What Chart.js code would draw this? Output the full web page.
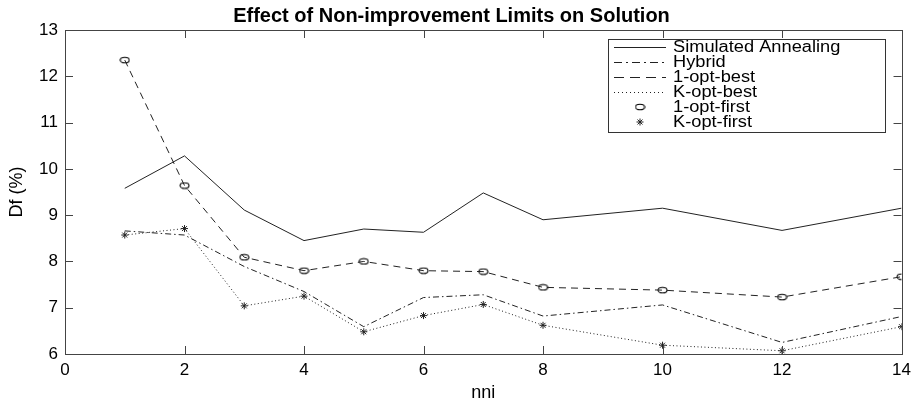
<!DOCTYPE html>
<html>
<head>
<meta charset="utf-8">
<script src="https://cdn.jsdelivr.net/npm/chart.js@4.4.1/dist/chart.umd.min.js"></script>
<style>
  html, body { margin: 0; padding: 0; background: #fff; }
  #wrap { width: 917px; height: 407px; }
</style>
</head>
<body>
<div id="wrap"><canvas id="chart"></canvas></div>
<script>
  // nni values on the x axis
  const nni = [1, 2, 3, 4, 5, 6, 7, 8, 10, 12, 14];

  // Df (%) per method
  const simulatedAnnealing = [9.58, 10.28, 9.11, 8.45, 8.70, 8.63, 9.48, 8.90, 9.15, 8.67, 9.15];
  const hybrid = [8.66, 8.57, 7.89, 7.35, 6.59, 7.22, 7.28, 6.82, 7.06, 6.25, 6.81];
  const oneOptBest = [12.35, 9.64, 8.09, 7.80, 8.00, 7.80, 7.78, 7.44, 7.38, 7.23, 7.67];
  const kOptBest = [8.57, 8.71, 7.04, 7.25, 6.48, 6.83, 7.07, 6.62, 6.19, 6.07, 6.59];
  const oneOptFirst = [12.35, 9.64, 8.09, 7.80, 8.00, 7.80, 7.78, 7.44, 7.38, 7.23, 7.67];
  const kOptFirst = [8.57, 8.71, 7.04, 7.25, 6.48, 6.83, 7.07, 6.62, 6.19, 6.07, 6.59];

  const xTicks = [0, 2, 4, 6, 8, 10, 12, 14];
  const yTicks = [6, 7, 8, 9, 10, 11, 12, 13];

  const ink = "#222";
  const font = "'Liberation Sans', Arial, Helvetica, sans-serif";

  const pts = (ys) => nni.map((x, i) => ({ x: x, y: ys[i] }));

  // flat open ellipse marker, like the matlab 'o' in the picture
  const ellipse = document.createElement("canvas");
  ellipse.width = 11;
  ellipse.height = 8;
  (() => {
    const c = ellipse.getContext("2d");
    c.strokeStyle = "#000";
    c.lineWidth = 1.1;
    c.beginPath();
    c.ellipse(5.5, 4, 4.5, 2.8, 0, 0, Math.PI * 2);
    c.stroke();
  })();

  // legend box with line samples and markers
  const legendBox = {
    id: "legendBox",
    afterDraw(chart) {
      const ctx = chart.ctx;
      const left = 608, top = 39, w = 277, h = 93;
      ctx.save();
      ctx.fillStyle = "#fff";
      ctx.fillRect(left, top, w, h);
      ctx.strokeStyle = "#333";
      ctx.lineWidth = 1;
      ctx.strokeRect(left + 0.5, top + 0.5, w, h);
      ctx.textBaseline = "middle";
      chart.data.datasets.forEach((ds, i) => {
        const y = top + 8 + i * 15;
        ctx.strokeStyle = ink;
        if (ds.showLine !== false) {
          ctx.setLineDash(ds.legendDash || ds.borderDash || []);
          ctx.beginPath();
          ctx.moveTo(614, y + 0.5);
          ctx.lineTo(666, y + 0.5);
          ctx.stroke();
          ctx.setLineDash([]);
        } else {
          ctx.fillStyle = "rgba(0,0,0,0)";
          Chart.helpers.drawPoint(ctx, {
            pointStyle: ds.pointStyle,
            radius: ds.pointRadius,
            borderWidth: 1,
          }, 640, y);
        }
        ctx.save();
        ctx.translate(673, y + 1);
        ctx.scale(1.14, 1);
        ctx.fillStyle = "#000";
        ctx.font = "16px " + font;
        ctx.fillText(ds.label, 0, 0);
        ctx.restore();
      });
      ctx.restore();
    },
  };

  // box around the plot with inward ticks on all sides
  const frameTicks = {
    id: "frameTicks",
    afterDatasetsDraw(chart) {
      const ctx = chart.ctx;
      const a = chart.chartArea;
      const xs = chart.scales.x, ys = chart.scales.y;
      const len = 8;
      ctx.save();
      ctx.strokeStyle = "#444";
      ctx.lineWidth = 1;
      ctx.strokeRect(Math.round(a.left) + 0.5, Math.round(a.top) + 0.5,
        Math.round(a.right - a.left), Math.round(a.bottom - a.top));
      ctx.beginPath();
      xTicks.forEach((v) => {
        const px = Math.round(xs.getPixelForValue(v)) + 0.5;
        ctx.moveTo(px, a.bottom); ctx.lineTo(px, a.bottom - len);
        ctx.moveTo(px, a.top); ctx.lineTo(px, a.top + len);
      });
      yTicks.forEach((v) => {
        const py = Math.round(ys.getPixelForValue(v)) + 0.5;
        ctx.moveTo(a.left, py); ctx.lineTo(a.left + len, py);
        ctx.moveTo(a.right, py); ctx.lineTo(a.right - len, py);
      });
      ctx.stroke();
      ctx.restore();
    },
  };

  const line = (label, ys, dash, legendDash) => ({
    label: label,
    data: pts(ys),
    borderColor: ink,
    borderWidth: 1,
    borderDash: dash,
    legendDash: legendDash,
    pointRadius: 0,
    fill: false,
    tension: 0,
  });

  const marks = (label, ys, style, r) => ({
    label: label,
    data: pts(ys),
    showLine: false,
    borderColor: ink,
    backgroundColor: "rgba(0,0,0,0)",
    borderWidth: 1,
    pointStyle: style,
    pointRadius: r,
  });

  new Chart(document.getElementById("chart"), {
    type: "line",
    data: {
      datasets: [
        line("Simulated Annealing", simulatedAnnealing, []),
        line("Hybrid", hybrid, [6, 3, 1.5, 3], [8, 4, 2, 4]),
        line("1-opt-best", oneOptBest, [7, 5], [10, 6]),
        line("K-opt-best", kOptBest, [1, 2.5], [1, 3]),
        marks("1-opt-first", oneOptFirst, ellipse, 4),
        marks("K-opt-first", kOptFirst, "star", 3.5),
      ],
    },
    options: {
      responsive: true,
      maintainAspectRatio: false,
      animation: false,
      layout: { padding: { left: 0, right: 14, top: 0, bottom: 0 } },
      plugins: {
        legend: { display: false },
        tooltip: { enabled: false },
        title: {
          display: true,
          text: "Effect of Non-improvement Limits on Solution",
          color: "#000",
          font: { family: font, size: 20, weight: "bold" },
          padding: { top: 4, bottom: 2 },
        },
      },
      scales: {
        x: {
          type: "linear",
          min: 0,
          max: 14,
          afterBuildTicks: (s) => { s.ticks = xTicks.map((v) => ({ value: v })); },
          afterFit: (s) => { s.height = 53; },
          grid: { display: false, drawTicks: false },
          border: { display: false },
          ticks: { color: "#000", padding: 6, font: { family: font, size: 17 } },
          title: {
            display: true,
            text: "nni",
            color: "#000",
            font: { family: font, size: 18 },
            padding: { top: 0, bottom: 3 },
          },
        },
        y: {
          min: 6,
          max: 13,
          afterBuildTicks: (s) => { s.ticks = yTicks.map((v) => ({ value: v })); },
          afterFit: (s) => { s.width = 65; },
          grid: { display: false, drawTicks: false },
          border: { display: false },
          ticks: { color: "#000", padding: 7, font: { family: font, size: 17 } },
          title: {
            display: true,
            text: "Df (%)",
            color: "#000",
            font: { family: font, size: 18 },
            padding: { top: 6, bottom: 0 },
          },
        },
      },
    },
    plugins: [frameTicks, legendBox],
  });
</script>
</body>
</html>
